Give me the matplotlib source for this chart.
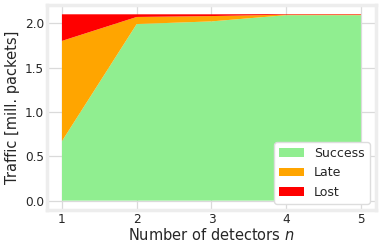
import matplotlib
matplotlib.use("Agg")
from matplotlib import pyplot as plt

detectors = [1, 2, 3, 4, 5]
success = [0.67, 1.99, 2.02, 2.09, 2.09]
late = [1.13, 0.08, 0.06, 0.006, 0.006]
lost = [0.30, 0.03, 0.02, 0.006, 0.006]

plt.style.use("seaborn-v0_8-whitegrid")
plt.rcParams['font.family'] = ['DejaVu Sans']

fig, ax = plt.subplots(figsize=(3.82, 2.49), dpi=100)
ax.stackplot(detectors, success, late, lost,
             colors=["lightgreen", "orange", "red"],
             labels=["Success", "Late", "Lost"])

ax.set_xlim(0.8, 5.2)
ax.set_ylim(-0.105, 2.205)
ax.set_xticks(detectors)
ax.set_yticks([0.0, 0.5, 1.0, 1.5, 2.0])
ax.set_xlabel("Number of detectors $n$", fontsize=10.5, color="#262626", labelpad=1)
ax.set_ylabel("Traffic [mill. packets]", fontsize=10.5, color="#262626", labelpad=4)
ax.tick_params(axis='both', which='major', labelsize=8.7, pad=2, colors="#262626")
for s in ax.spines.values():
    s.set_visible(True)
    s.set_color("#ededed")
    s.set_linewidth(2.5)
ax.grid(True, color="#dadada", linewidth=0.9)

ax.legend(loc="lower right", frameon=True, fontsize=9, facecolor="white",
          edgecolor="#dddddd", framealpha=1.0)

fig.subplots_adjust(left=0.123, right=0.984, top=0.98, bottom=0.157)
fig.savefig("out.png", dpi=100)
